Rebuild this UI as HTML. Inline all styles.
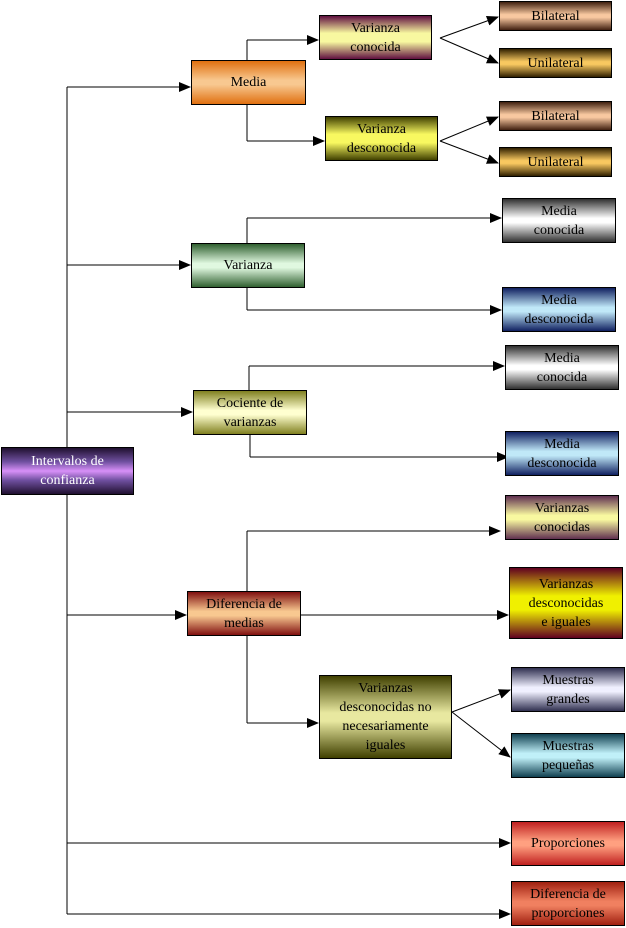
<!DOCTYPE html>
<html><head><meta charset="utf-8"><style>
body{margin:0;width:626px;height:928px;background:#fff;position:relative;overflow:hidden;font-family:"Liberation Serif",serif;}
.b{position:absolute;box-sizing:border-box;border:1px solid #000;display:flex;align-items:center;justify-content:center;text-align:center;font-size:14px;line-height:19px;color:#000;}
svg{position:absolute;left:0;top:0;}
</style></head><body>
<svg width="626" height="928">
<defs><marker id="a" markerWidth="12" markerHeight="10" refX="11" refY="5" orient="auto" markerUnits="userSpaceOnUse"><path d="M0,0 L12,5 L0,10 z" fill="#000"/></marker></defs>
<g stroke="#000" stroke-width="1" fill="none">
<line x1="67" y1="87" x2="67" y2="914"/>
<line x1="67" y1="87" x2="190" y2="87" marker-end="url(#a)"/>
<line x1="67" y1="265" x2="190" y2="265" marker-end="url(#a)"/>
<line x1="67" y1="412" x2="192" y2="412" marker-end="url(#a)"/>
<line x1="67" y1="615" x2="186" y2="615" marker-end="url(#a)"/>
<line x1="67" y1="843" x2="510" y2="843" marker-end="url(#a)"/>
<line x1="67" y1="914" x2="510" y2="914" marker-end="url(#a)"/>
<line x1="247" y1="40" x2="247" y2="60"/><line x1="247" y1="105" x2="247" y2="141"/>
<line x1="247" y1="40" x2="318" y2="40" marker-end="url(#a)"/>
<line x1="247" y1="141" x2="324" y2="141" marker-end="url(#a)"/>
<line x1="440" y1="38" x2="498" y2="17" marker-end="url(#a)"/>
<line x1="440" y1="38" x2="498" y2="63" marker-end="url(#a)"/>
<line x1="440" y1="141" x2="498" y2="117" marker-end="url(#a)"/>
<line x1="440" y1="141" x2="498" y2="163" marker-end="url(#a)"/>
<line x1="247" y1="218" x2="247" y2="243"/><line x1="247" y1="288" x2="247" y2="310"/>
<line x1="247" y1="218" x2="501" y2="218" marker-end="url(#a)"/>
<line x1="247" y1="310" x2="501" y2="310" marker-end="url(#a)"/>
<line x1="249" y1="366" x2="249" y2="390"/><line x1="250" y1="435" x2="250" y2="457"/>
<line x1="249" y1="366" x2="504" y2="366" marker-end="url(#a)"/>
<line x1="250" y1="457" x2="508" y2="457" marker-end="url(#a)"/>
<line x1="247" y1="531" x2="247" y2="591"/><line x1="247" y1="636" x2="247" y2="723"/>
<line x1="247" y1="531" x2="500" y2="531" marker-end="url(#a)"/>
<line x1="301" y1="615" x2="508" y2="615" marker-end="url(#a)"/>
<line x1="247" y1="723" x2="318" y2="723" marker-end="url(#a)"/>
<line x1="452" y1="712" x2="510" y2="690" marker-end="url(#a)"/>
<line x1="452" y1="712" x2="510" y2="757" marker-end="url(#a)"/>
</g></svg>
<div class="b" style="left:1px;top:447px;width:133px;height:48px;color:#fff;background:linear-gradient(#201030,#7050a0 30%,#d890f8 50%,#7050a0 70%,#201030)">Intervalos de<br>confianza</div>
<div class="b" style="left:191px;top:60px;width:115px;height:45px;background:linear-gradient(#e07010,#f8c890 45%,#f8c890 55%,#e07010)">Media</div>
<div class="b" style="left:319px;top:15px;width:113px;height:45px;background:linear-gradient(#601040,#f8f8a0 40%,#f8f8a0 60%,#601040)">Varianza<br>conocida</div>
<div class="b" style="left:499px;top:1px;width:113px;height:30px;background:linear-gradient(#402010,#f8c8a0 45%,#f8c8a0 55%,#402010)">Bilateral</div>
<div class="b" style="left:499px;top:48px;width:113px;height:30px;background:linear-gradient(#302000,#f8c860 45%,#f8c860 55%,#302000)">Unilateral</div>
<div class="b" style="left:325px;top:116px;width:113px;height:45px;background:linear-gradient(#404000,#f8f860 40%,#f8f860 60%,#404000)">Varianza<br>desconocida</div>
<div class="b" style="left:499px;top:101px;width:113px;height:30px;background:linear-gradient(#402010,#f8c8a0 45%,#f8c8a0 55%,#402010)">Bilateral</div>
<div class="b" style="left:499px;top:147px;width:113px;height:30px;background:linear-gradient(#302000,#f8c860 45%,#f8c860 55%,#302000)">Unilateral</div>
<div class="b" style="left:191px;top:243px;width:114px;height:45px;background:linear-gradient(#306030,#e0f8e0 45%,#e0f8e0 55%,#306030)">Varianza</div>
<div class="b" style="left:502px;top:198px;width:114px;height:45px;background:linear-gradient(#303030,#fff 45%,#fff 55%,#303030)">Media<br>conocida</div>
<div class="b" style="left:502px;top:287px;width:114px;height:45px;background:linear-gradient(#102060,#c0e8f8 45%,#c0e8f8 55%,#102060)">Media<br>desconocida</div>
<div class="b" style="left:193px;top:390px;width:114px;height:45px;background:linear-gradient(#808020,#ffffd0 45%,#ffffd0 55%,#808020)">Cociente de<br>varianzas</div>
<div class="b" style="left:505px;top:345px;width:114px;height:45px;background:linear-gradient(#303030,#fff 45%,#fff 55%,#303030)">Media<br>conocida</div>
<div class="b" style="left:505px;top:431px;width:114px;height:45px;background:linear-gradient(#102060,#c0e8f8 45%,#c0e8f8 55%,#102060)">Media<br>desconocida</div>
<div class="b" style="left:505px;top:495px;width:114px;height:45px;background:linear-gradient(#603050,#f8f8a0 45%,#f8f8a0 55%,#603050)">Varianzas<br>conocidas</div>
<div class="b" style="left:187px;top:591px;width:114px;height:45px;background:linear-gradient(#801010,#f8c890 45%,#f8c890 55%,#801010)">Diferencia de<br>medias</div>
<div class="b" style="left:509px;top:567px;width:114px;height:72px;background:linear-gradient(#600020,#f0f000 40%,#f0f000 60%,#600020)">Varianzas<br>desconocidas<br>e iguales</div>
<div class="b" style="left:319px;top:675px;width:133px;height:84px;background:linear-gradient(#404000,#e8e8a0 45%,#e8e8a0 55%,#404000)">Varianzas<br>desconocidas no<br>necesariamente<br>iguales</div>
<div class="b" style="left:511px;top:667px;width:114px;height:45px;background:linear-gradient(#303050,#f0f0ff 45%,#f0f0ff 55%,#303050)">Muestras<br>grandes</div>
<div class="b" style="left:511px;top:733px;width:114px;height:45px;background:linear-gradient(#104050,#c0f0f8 45%,#c0f0f8 55%,#104050)">Muestras<br>pequeñas</div>
<div class="b" style="left:511px;top:821px;width:114px;height:45px;background:linear-gradient(#c02020,#ffa080 45%,#ffa080 55%,#c02020)">Proporciones</div>
<div class="b" style="left:511px;top:881px;width:114px;height:45px;background:linear-gradient(#a02010,#f08060 45%,#f08060 55%,#a02010)">Diferencia de<br>proporciones</div>
</body></html>
